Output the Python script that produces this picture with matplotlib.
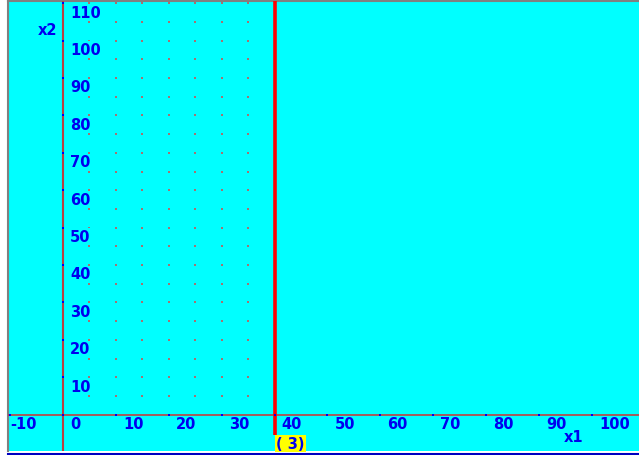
import numpy as np
import matplotlib
matplotlib.use('Agg')
import matplotlib.pyplot as plt
from matplotlib.lines import Line2D

# axis ticks
x_ticks = [-10, 0, 10, 20, 30, 40, 50, 60, 70, 80, 90, 100]
y_ticks = [10, 20, 30, 40, 50, 60, 70, 80, 90, 100, 110]

# constraint line (3): x1 = 40
constraint_x = 40
constraint_label = "( 3)"

# feasible grid points
grid_x = [5, 10, 15, 20, 25, 30, 35]
grid_y = [5, 10, 15, 20, 25, 30, 35, 40, 45, 50, 55, 60, 65, 70, 75,
          80, 85, 90, 95, 100, 105, 110]

BLUE = '#0000ee'
CYAN = '#00ffff'
W, H = 639, 456

fig = plt.figure(figsize=(W / 100, H / 100), dpi=100)
fig.patch.set_facecolor('white')
ax = fig.add_axes([8 / W, (H - 452) / H, (W - 8) / W, 450 / H])
ax.set_facecolor(CYAN)
ax.set_xlim(-10.4, 108.9)
ax.set_ylim(-9.7, 110.6)
ax.set_xticks([])
ax.set_yticks([])
for side in ['right', 'bottom']:
    ax.spines[side].set_visible(False)
for side in ['left', 'top']:
    ax.spines[side].set_color('#808080')
    ax.spines[side].set_linewidth(1.5)

# grid of points
gx, gy = np.meshgrid(grid_x, grid_y)
ax.scatter(gx.ravel(), gy.ravel(), s=4, marker='s', color='#a87070',
           linewidths=0, zorder=2)

# coordinate axes
ax.axhline(0, color='#c04040', lw=1.2, zorder=3)
ax.axvline(0, color='#b84040', lw=1.5, zorder=3)

# constraint line, stops at the top of its label
ax.plot([constraint_x, constraint_x], [-5.4, 111], color='#ff0000', lw=2.6,
        zorder=4, solid_capstyle='butt')

font = dict(family='DejaVu Sans', fontweight='bold', fontsize=10.5, color=BLUE)

# tick marks and labels
ax.scatter(x_ticks, [0] * len(x_ticks), s=3, marker='s', color=BLUE,
           linewidths=0, zorder=5)
ax.scatter([0] * len(y_ticks), y_ticks, s=3, marker='s', color=BLUE,
           linewidths=0, zorder=5)
for xv in x_ticks:
    off = 0 if xv < 0 else 5
    ax.annotate(str(xv), (xv, 0), xytext=(off, -1), textcoords='offset points',
                ha='left', va='top', zorder=6, **font)
for yv in y_ticks:
    ax.annotate(str(yv), (0, yv), xytext=(5, -1), textcoords='offset points',
                ha='left', va='top', zorder=6,
                bbox=dict(facecolor=CYAN, edgecolor='none', pad=0.5), **font)

ax.text(-1.1, 102.9, 'x2', ha='right', va='center', **font)
ax.text(96.6, -5.8, 'x1', ha='center', va='center', **font)

ax.annotate(constraint_label, (constraint_x, -5.4), xytext=(1.2, -0.9),
            textcoords='offset points', ha='left', va='top', zorder=6,
            bbox=dict(facecolor='#ffff00', edgecolor='none', pad=0.9), **font)

# bottom status line
fig.add_artist(Line2D([8 / W, 1], [1.2 / H, 1.2 / H], color='#0000c0', lw=1.5,
                      transform=fig.transFigure))

fig.savefig('out.png', dpi=100, facecolor='white')
